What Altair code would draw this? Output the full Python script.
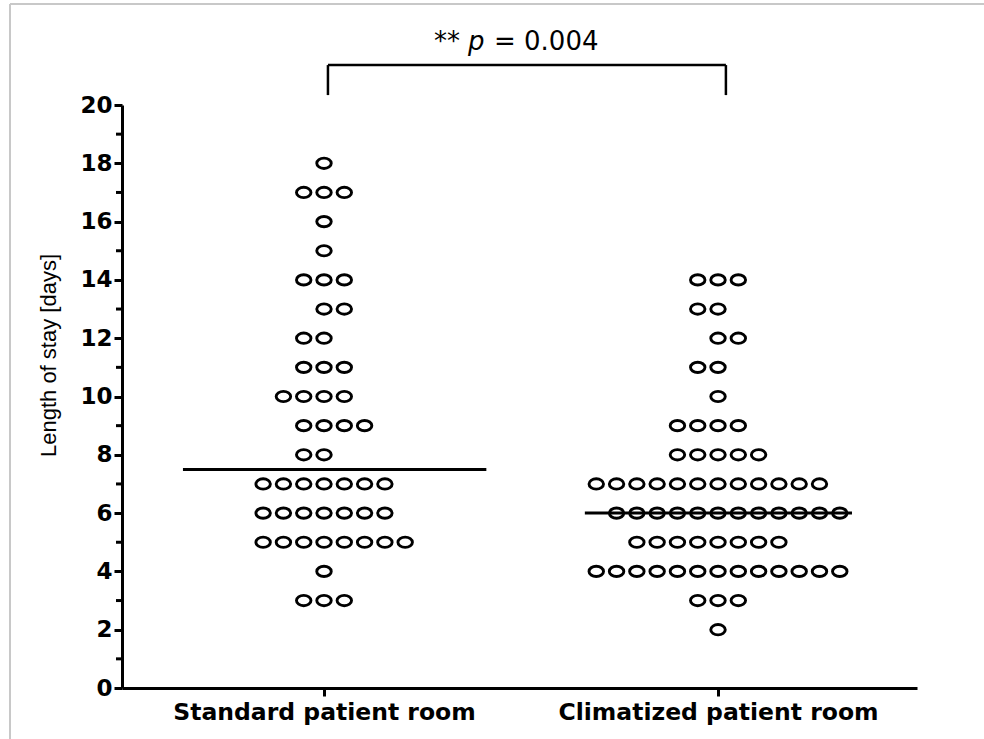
import altair as alt
import numpy as np
import pandas as pd

# Group labels along the x axis
groups = ["Standard patient room", "Climatized patient room"]

# Length of stay (days) for each dot row, with the horizontal slot of every dot in that row
standard_days = [18, 17, 16, 15, 14, 13, 12, 11, 10, 9, 8, 7, 6, 5, 4, 3]
standard_slots = [
    [0], [-1, 0, 1], [0], [0], [-1, 0, 1], [0, 1], [-1, 0], [-1, 0, 1],
    [-2, -1, 0, 1], [-1, 0, 1, 2], [-1, 0],
    [-3, -2, -1, 0, 1, 2, 3], [-3, -2, -1, 0, 1, 2, 3],
    [-3, -2, -1, 0, 1, 2, 3, 4], [0], [-1, 0, 1],
]
climatized_days = [14, 13, 12, 11, 10, 9, 8, 7, 6, 5, 4, 3, 2]
climatized_slots = [
    [-1, 0, 1], [-1, 0], [0, 1], [-1, 0], [0], [-2, -1, 0, 1], [-2, -1, 0, 1, 2],
    [-6, -5, -4, -3, -2, -1, 0, 1, 2, 3, 4, 5],
    [-5, -4, -3, -2, -1, 0, 1, 2, 3, 4, 5, 6],
    [-4, -3, -2, -1, 0, 1, 2, 3],
    [-6, -5, -4, -3, -2, -1, 0, 1, 2, 3, 4, 5, 6],
    [-1, 0, 1], [0],
]

# Annotation
p_text = ["**", "p", "= 0.004"]
y_ticks = list(range(0, 21, 2))
y_minor = list(range(1, 20, 2))

# Layout constants
DOT_STEP = 0.0515          # horizontal spacing between neighbouring dots (x units)
MEDIAN_HALF = [(0.358, 0.412), (0.338, 0.340)]
BRACKET_X = [0.01, 1.02]
BRACKET_TOP, BRACKET_BOTTOM = 21.37, 20.34
W, H = 795, 583

rows = []
for gi, (days_list, slots_list) in enumerate(
    [(standard_days, standard_slots), (climatized_days, climatized_slots)]
):
    for d, slots in zip(days_list, slots_list):
        for s in slots:
            rows.append({"group": groups[gi], "gi": gi, "days": d, "pos": gi + s * DOT_STEP})
dots = pd.DataFrame(rows)

med_rows = []
for gi, g in enumerate(groups):
    m = float(np.median(dots.loc[dots.gi == gi, "days"]))
    lo, hi = MEDIAN_HALF[gi]
    med_rows.append({"group": g, "median": m, "x0": gi - lo, "x1": gi + hi})
medians = pd.DataFrame(med_rows)

x_scale = alt.Scale(domain=[-0.5127, 1.505], nice=False, zero=False)
y_scale = alt.Scale(domain=[0, 20], nice=False, zero=True)

label_expr = f"datum.value == 0 ? '{groups[0]}' : '{groups[1]}'"

x_axis = alt.Axis(
    values=[0, 1], labelExpr=label_expr, title=None, grid=False,
    domainWidth=3, domainColor="black", tickWidth=3, tickColor="black", tickSize=8,
    labelFont="DejaVu Sans", labelFontWeight="bold", labelFontSize=23.5,
    labelColor="black", labelPadding=4, labelFlush=False, labelOverlap=False,
    labelLimit=0,
)
y_axis = alt.Axis(
    values=y_ticks, grid=False, title="Length of stay [days]",
    domainWidth=3, domainColor="black", tickWidth=3, tickColor="black", tickSize=8,
    labelFont="DejaVu Sans", labelFontWeight="bold", labelFontSize=23,
    labelColor="black", labelPadding=2,
    titleFont="Liberation Sans", titleFontWeight="normal", titleFontSize=22,
    titleColor="black", titleX=-62, titleY=250,
)

ELLIPSE = "M -1 0 A 1 0.71 0 1 0 1 0 A 1 0.71 0 1 0 -1 0 Z"

points = alt.Chart(dots).mark_point(
    shape=ELLIPSE, size=210, filled=False, stroke="black", strokeWidth=2.9, opacity=1
).encode(
    x=alt.X("pos:Q", scale=x_scale, axis=x_axis),
    y=alt.Y("days:Q", scale=y_scale, axis=y_axis),
)

median_lines = alt.Chart(medians).mark_rule(color="black", strokeWidth=3).encode(
    x=alt.X("x0:Q", scale=x_scale), x2="x1:Q", y=alt.Y("median:Q", scale=y_scale)
)

minor_ticks = alt.Chart(pd.DataFrame({"v": y_minor})).mark_rule(
    color="black", strokeWidth=3
).encode(y=alt.Y("v:Q", scale=y_scale), x=alt.value(-6), x2=alt.value(0))

bracket_df = pd.DataFrame({"bx": BRACKET_X, "top": BRACKET_TOP, "bottom": BRACKET_BOTTOM})
bracket_h = alt.Chart(pd.DataFrame({"x0": [BRACKET_X[0]], "x1": [BRACKET_X[1]], "y": [BRACKET_TOP]})).mark_rule(
    color="black", strokeWidth=2.5
).encode(x=alt.X("x0:Q", scale=x_scale), x2="x1:Q", y=alt.Y("y:Q", scale=y_scale))
bracket_v = alt.Chart(bracket_df).mark_rule(color="black", strokeWidth=2.5).encode(
    x=alt.X("bx:Q", scale=x_scale), y=alt.Y("bottom:Q", scale=y_scale), y2="top:Q"
)

ann_df = pd.DataFrame({"x": [0.5], "y": [21.9]})
ann_base = alt.Chart(ann_df).encode(x=alt.X("x:Q", scale=x_scale), y=alt.Y("y:Q", scale=y_scale))
ann_stars = ann_base.mark_text(
    text=p_text[0], align="left", baseline="alphabetic", dx=-87,
    font="DejaVu Sans", fontSize=26, color="black"
)
ann_p = ann_base.mark_text(
    text=p_text[1], align="left", baseline="alphabetic", dx=-53,
    font="DejaVu Sans", fontSize=26, fontStyle="italic", color="black"
)
ann_val = ann_base.mark_text(
    text=p_text[2], align="left", baseline="alphabetic", dx=-27,
    font="DejaVu Sans", fontSize=26, color="black"
)

# Light frame along the top and left edges of the figure
frame_left = alt.Chart(ann_df).mark_rule(color="#c8c8c8", strokeWidth=2).encode(
    x=alt.value(-112), y=alt.value(-101), y2=alt.value(H + 60)
)
frame_top = alt.Chart(ann_df).mark_rule(color="#c8c8c8", strokeWidth=2).encode(
    x=alt.value(-112), x2=alt.value(W + 70), y=alt.value(-101)
)

chart = alt.layer(
    frame_left, frame_top, points, median_lines, minor_ticks,
    bracket_h, bracket_v, ann_stars, ann_p, ann_val,
).properties(
    width=W, height=H,
    autosize=alt.AutoSizeParams(type="none"),
    padding={"left": 122, "top": 105, "right": 67, "bottom": 51},
    background="white",
).configure_view(stroke=None)

chart.save("out.html", embed_options={"renderer": "svg", "actions": False})
